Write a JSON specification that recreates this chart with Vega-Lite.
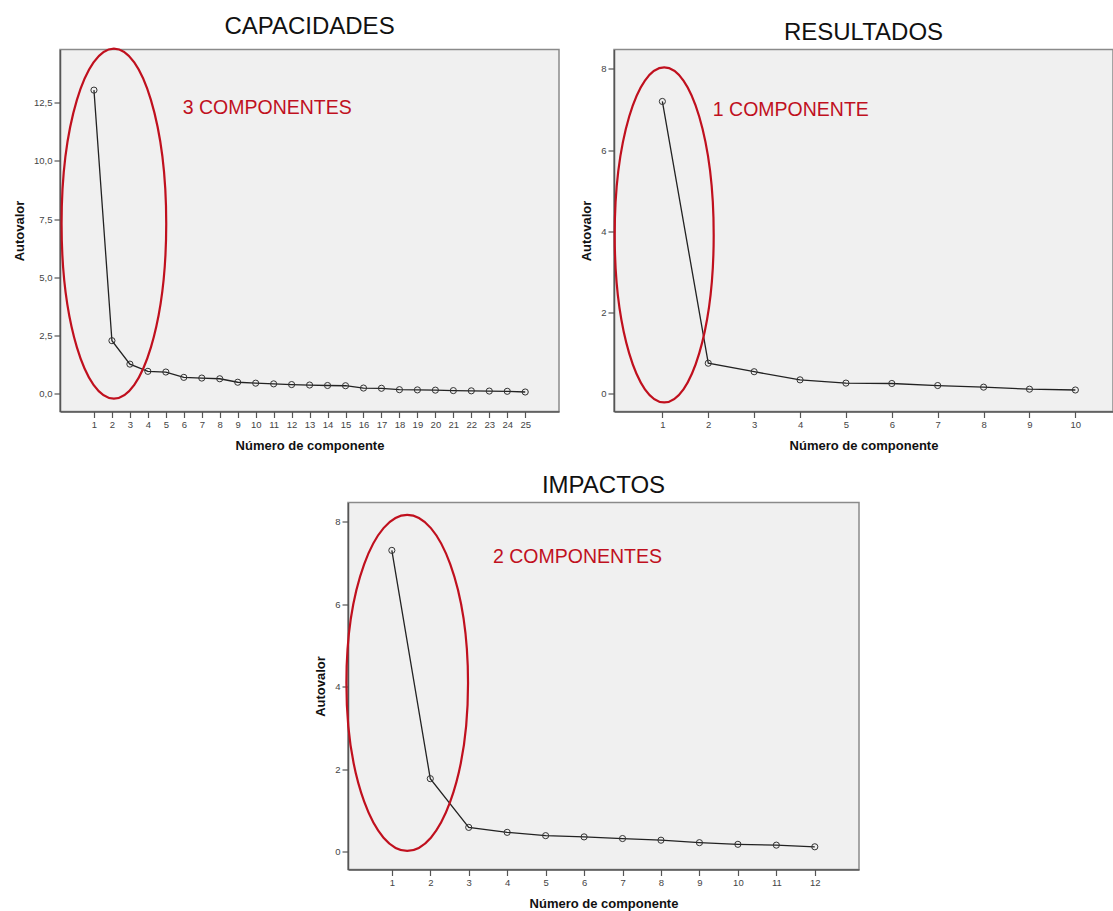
{
  "$schema": "https://vega.github.io/schema/vega-lite/v6.json",
  "padding": {"left": 12, "top": 14.5, "right": 0, "bottom": 0},
  "background": "white",
  "config": {
    "font": "Liberation Sans",
    "view": {"fill": "#f0f0f0", "stroke": "#8a8a8a", "strokeWidth": 1.5},
    "axis": {
      "grid": false,
      "domainColor": "#555555",
      "domainWidth": 1.5,
      "tickColor": "#555555",
      "tickSize": 6,
      "tickWidth": 1.2,
      "labelFont": "Liberation Sans",
      "labelFontSize": 9.5,
      "labelColor": "#444444",
      "labelPadding": 2,
      "labelOverlap": false,
      "labelFlush": false,
      "titleFont": "Liberation Sans",
      "titleFontSize": 13,
      "titleFontWeight": "bold",
      "titleColor": "#111111"
    },
    "axisX": {"titlePadding": 10, "labelOverlap": false},
    "axisY": {"titlePadding": 7},
    "title": {"font": "Liberation Sans", "fontSize": 24, "fontWeight": "normal", "color": "#111111", "offset": 5}
  },
  "datasets": {
    "cap": [
      {"componente": 1, "autovalor": 13.05},
      {"componente": 2, "autovalor": 2.26},
      {"componente": 3, "autovalor": 1.25},
      {"componente": 4, "autovalor": 0.94},
      {"componente": 5, "autovalor": 0.91},
      {"componente": 6, "autovalor": 0.68},
      {"componente": 7, "autovalor": 0.65},
      {"componente": 8, "autovalor": 0.62},
      {"componente": 9, "autovalor": 0.47},
      {"componente": 10, "autovalor": 0.43},
      {"componente": 11, "autovalor": 0.40},
      {"componente": 12, "autovalor": 0.37},
      {"componente": 13, "autovalor": 0.35},
      {"componente": 14, "autovalor": 0.33},
      {"componente": 15, "autovalor": 0.32},
      {"componente": 16, "autovalor": 0.22},
      {"componente": 17, "autovalor": 0.21},
      {"componente": 18, "autovalor": 0.15},
      {"componente": 19, "autovalor": 0.14},
      {"componente": 20, "autovalor": 0.13},
      {"componente": 21, "autovalor": 0.11},
      {"componente": 22, "autovalor": 0.10},
      {"componente": 23, "autovalor": 0.09},
      {"componente": 24, "autovalor": 0.08},
      {"componente": 25, "autovalor": 0.05}
    ],
    "res": [
      {"componente": 1, "autovalor": 7.2},
      {"componente": 2, "autovalor": 0.75},
      {"componente": 3, "autovalor": 0.54},
      {"componente": 4, "autovalor": 0.34},
      {"componente": 5, "autovalor": 0.26},
      {"componente": 6, "autovalor": 0.25},
      {"componente": 7, "autovalor": 0.20},
      {"componente": 8, "autovalor": 0.16},
      {"componente": 9, "autovalor": 0.11},
      {"componente": 10, "autovalor": 0.09}
    ],
    "imp": [
      {"componente": 1, "autovalor": 7.30},
      {"componente": 2, "autovalor": 1.77},
      {"componente": 3, "autovalor": 0.59},
      {"componente": 4, "autovalor": 0.47},
      {"componente": 5, "autovalor": 0.39},
      {"componente": 6, "autovalor": 0.36},
      {"componente": 7, "autovalor": 0.32},
      {"componente": 8, "autovalor": 0.28},
      {"componente": 9, "autovalor": 0.22},
      {"componente": 10, "autovalor": 0.18},
      {"componente": 11, "autovalor": 0.16},
      {"componente": 12, "autovalor": 0.12}
    ]
  },
  "vconcat": [
    {
      "hconcat": [
        {
          "width": 499,
          "height": 362,
          "title": {"text": "CAPACIDADES"},
          "layer": [
            {
              "data": {"name": "cap"},
              "mark": {"type": "line", "color": "#222222", "strokeWidth": 1.3, "clip": false},
              "encoding": {
                "x": {"field": "componente", "type": "quantitative",
                  "scale": {"domain": [-0.89, 26.88], "nice": false, "zero": false},
                  "axis": {"title": "Número de componente", "labelOverlap": false, "values": [1,2,3,4,5,6,7,8,9,10,11,12,13,14,15,16,17,18,19,20,21,22,23,24,25]}},
                "y": {"field": "autovalor", "type": "quantitative",
                  "scale": {"domain": [-0.79, 14.8], "nice": false, "zero": false},
                  "axis": {"title": "Autovalor", "labelOverlap": false, "values": [0, 2.5, 5, 7.5, 10, 12.5], "labelExpr": "replace(format(datum.value, '.1f'), '.', ',')"}}
              }
            },
            {
              "data": {"name": "cap"},
              "mark": {"type": "point", "shape": "circle", "filled": false, "size": 38, "color": "#333333", "strokeWidth": 1, "opacity": 1},
              "encoding": {
                "x": {"field": "componente", "type": "quantitative",
                  "axis": {"title": "Número de componente", "labelOverlap": false, "values": [1,2,3,4,5,6,7,8,9,10,11,12,13,14,15,16,17,18,19,20,21,22,23,24,25]}},
                "y": {"field": "autovalor", "type": "quantitative",
                  "axis": {"title": "Autovalor", "labelOverlap": false, "values": [0, 2.5, 5, 7.5, 10, 12.5], "labelExpr": "replace(format(datum.value, '.1f'), '.', ',')"}}
              }
            },
            {
              "data": {"values": [{"grupo": "retenidos"}]},
              "mark": {"type": "point", "shape": "M 0.299 0 C 0.299 0.5523 0.1651 1 0 1 C -0.1651 1 -0.299 0.5523 -0.299 0 C -0.299 -0.5523 -0.1651 -1 0 -1 C 0.1651 -1 0.299 -0.5523 0.299 0 Z", "size": 122500, "filled": false, "color": "#c0101e", "strokeWidth": 2.2, "opacity": 1, "clip": false},
              "encoding": {
                "x": {"datum": 2.11, "type": "quantitative",
                  "axis": {"title": "Número de componente", "labelOverlap": false, "values": [1,2,3,4,5,6,7,8,9,10,11,12,13,14,15,16,17,18,19,20,21,22,23,24,25]}},
                "y": {"datum": 7.30, "type": "quantitative",
                  "axis": {"title": "Autovalor", "labelOverlap": false, "values": [0, 2.5, 5, 7.5, 10, 12.5], "labelExpr": "replace(format(datum.value, '.1f'), '.', ',')"}}
              }
            },
            {
              "data": {"values": [{"etiqueta": "3 COMPONENTES"}]},
              "mark": {"type": "text", "align": "left", "baseline": "middle", "fontSize": 19.5, "color": "#c0101e", "font": "Liberation Sans"},
              "encoding": {
                "x": {"datum": 5.94, "type": "quantitative",
                  "axis": {"title": "Número de componente", "labelOverlap": false, "values": [1,2,3,4,5,6,7,8,9,10,11,12,13,14,15,16,17,18,19,20,21,22,23,24,25]}},
                "y": {"datum": 12.27, "type": "quantitative",
                  "axis": {"title": "Autovalor", "labelOverlap": false, "values": [0, 2.5, 5, 7.5, 10, 12.5], "labelExpr": "replace(format(datum.value, '.1f'), '.', ',')"}},
                "text": {"field": "etiqueta"}
              }
            }
          ]
        },
        {
          "width": 499,
          "height": 362,
          "title": {"text": "RESULTADOS"},
          "layer": [
            {
              "data": {"name": "res"},
              "mark": {"type": "line", "color": "#222222", "strokeWidth": 1.3, "clip": false},
              "encoding": {
                "x": {"field": "componente", "type": "quantitative",
                  "scale": {"domain": [-0.054, 10.82], "nice": false, "zero": false},
                  "axis": {"title": "Número de componente", "labelOverlap": false, "values": [1,2,3,4,5,6,7,8,9,10]}},
                "y": {"field": "autovalor", "type": "quantitative",
                  "scale": {"domain": [-0.44, 8.48], "nice": false, "zero": false},
                  "axis": {"title": "Autovalor", "labelOverlap": false, "values": [0, 2, 4, 6, 8]}}
              }
            },
            {
              "data": {"name": "res"},
              "mark": {"type": "point", "shape": "circle", "filled": false, "size": 38, "color": "#333333", "strokeWidth": 1, "opacity": 1},
              "encoding": {
                "x": {"field": "componente", "type": "quantitative",
                  "axis": {"title": "Número de componente", "labelOverlap": false, "values": [1,2,3,4,5,6,7,8,9,10]}},
                "y": {"field": "autovalor", "type": "quantitative",
                  "axis": {"title": "Autovalor", "labelOverlap": false, "values": [0, 2, 4, 6, 8]}}
              }
            },
            {
              "data": {"values": [{"grupo": "retenidos"}]},
              "mark": {"type": "point", "shape": "M 0.2955 0 C 0.2955 0.5523 0.1632 1 0 1 C -0.1632 1 -0.2955 0.5523 -0.2955 0 C -0.2955 -0.5523 -0.1632 -1 0 -1 C 0.1632 -1 0.2955 -0.5523 0.2955 0 Z", "size": 112225, "filled": false, "color": "#c0101e", "strokeWidth": 2.2, "opacity": 1, "clip": false},
              "encoding": {
                "x": {"datum": 1.04, "type": "quantitative",
                  "axis": {"title": "Número de componente", "labelOverlap": false, "values": [1,2,3,4,5,6,7,8,9,10]}},
                "y": {"datum": 3.91, "type": "quantitative",
                  "axis": {"title": "Autovalor", "labelOverlap": false, "values": [0, 2, 4, 6, 8]}}
              }
            },
            {
              "data": {"values": [{"etiqueta": "1 COMPONENTE"}]},
              "mark": {"type": "text", "align": "left", "baseline": "middle", "fontSize": 19.5, "color": "#c0101e", "font": "Liberation Sans"},
              "encoding": {
                "x": {"datum": 2.10, "type": "quantitative",
                  "axis": {"title": "Número de componente", "labelOverlap": false, "values": [1,2,3,4,5,6,7,8,9,10]}},
                "y": {"datum": 7.0, "type": "quantitative",
                  "axis": {"title": "Autovalor", "labelOverlap": false, "values": [0, 2, 4, 6, 8]}},
                "text": {"field": "etiqueta"}
              }
            }
          ]
        }
      ],
      "spacing": 19
    },
    {
      "hconcat": [
        {
          "width": 253,
          "height": 10,
          "data": {"values": []},
          "mark": {"type": "point", "opacity": 0},
          "view": {"stroke": null, "fill": null}
        },
        {
          "width": 511,
          "height": 367,
          "title": {"text": "IMPACTOS"},
          "layer": [
            {
              "data": {"name": "imp"},
              "mark": {"type": "line", "color": "#222222", "strokeWidth": 1.3, "clip": false},
              "encoding": {
                "x": {"field": "componente", "type": "quantitative",
                  "scale": {"domain": [-0.14, 13.15], "nice": false, "zero": false},
                  "axis": {"title": "Número de componente", "labelOverlap": false, "values": [1,2,3,4,5,6,7,8,9,10,11,12]}},
                "y": {"field": "autovalor", "type": "quantitative",
                  "scale": {"domain": [-0.43, 8.46], "nice": false, "zero": false},
                  "axis": {"title": "Autovalor", "labelOverlap": false, "values": [0, 2, 4, 6, 8]}}
              }
            },
            {
              "data": {"name": "imp"},
              "mark": {"type": "point", "shape": "circle", "filled": false, "size": 38, "color": "#333333", "strokeWidth": 1, "opacity": 1},
              "encoding": {
                "x": {"field": "componente", "type": "quantitative",
                  "axis": {"title": "Número de componente", "labelOverlap": false, "values": [1,2,3,4,5,6,7,8,9,10,11,12]}},
                "y": {"field": "autovalor", "type": "quantitative",
                  "axis": {"title": "Autovalor", "labelOverlap": false, "values": [0, 2, 4, 6, 8]}}
              }
            },
            {
              "data": {"values": [{"grupo": "retenidos"}]},
              "mark": {"type": "point", "shape": "M 0.362 0 C 0.362 0.5523 0.2 1 0 1 C -0.2 1 -0.362 0.5523 -0.362 0 C -0.362 -0.5523 -0.2 -1 0 -1 C 0.2 -1 0.362 -0.5523 0.362 0 Z", "size": 112896, "filled": false, "color": "#c0101e", "strokeWidth": 2.2, "opacity": 1, "clip": false},
              "encoding": {
                "x": {"datum": 1.40, "type": "quantitative",
                  "axis": {"title": "Número de componente", "labelOverlap": false, "values": [1,2,3,4,5,6,7,8,9,10,11,12]}},
                "y": {"datum": 4.09, "type": "quantitative",
                  "axis": {"title": "Autovalor", "labelOverlap": false, "values": [0, 2, 4, 6, 8]}}
              }
            },
            {
              "data": {"values": [{"etiqueta": "2 COMPONENTES"}]},
              "mark": {"type": "text", "align": "left", "baseline": "middle", "fontSize": 19.5, "color": "#c0101e", "font": "Liberation Sans"},
              "encoding": {
                "x": {"datum": 3.63, "type": "quantitative",
                  "axis": {"title": "Número de componente", "labelOverlap": false, "values": [1,2,3,4,5,6,7,8,9,10,11,12]}},
                "y": {"datum": 7.15, "type": "quantitative",
                  "axis": {"title": "Autovalor", "labelOverlap": false, "values": [0, 2, 4, 6, 8]}},
                "text": {"field": "etiqueta"}
              }
            }
          ]
        }
      ],
      "spacing": 0
    }
  ],
  "spacing": 19
}
